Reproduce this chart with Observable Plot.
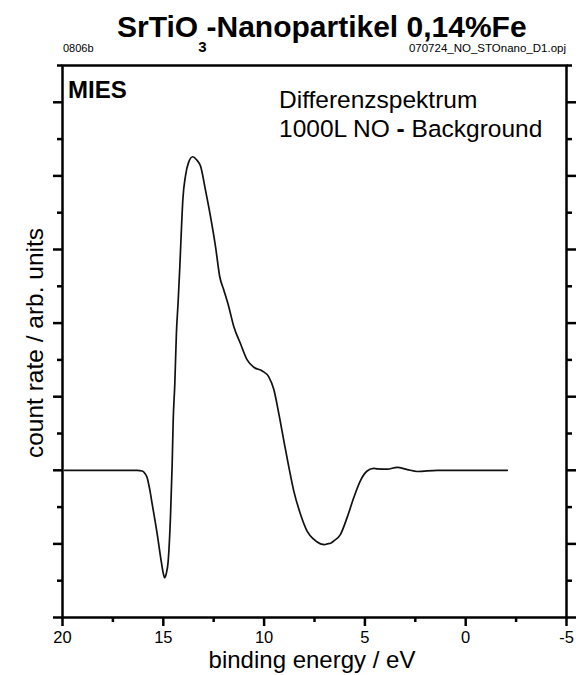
<!DOCTYPE html>
<html>
<head>
<meta charset="utf-8">
<script src="https://cdn.jsdelivr.net/npm/d3@7"></script>
<script src="https://cdn.jsdelivr.net/npm/@observablehq/plot@0.6"></script>
<style>
  body { margin: 0; background: #fff; }
  #chart { width: 582px; height: 675px; }
</style>
</head>
<body>
<div id="chart"></div>
<script>
// binding energy (eV) and difference count rate (arb. units)
const energy = [19.9, 18.0, 16.3, 16.05, 15.92, 15.80, 15.68, 15.55, 15.30, 15.10, 15.00, 14.93, 14.85, 14.76, 14.64, 14.56, 14.51, 14.43, 14.35, 14.26, 14.18, 14.11, 14.03, 13.90, 13.75, 13.54, 13.35, 13.15, 12.91, 12.66, 12.41, 12.20, 12.00, 11.75, 11.50, 11.17, 10.84, 10.51, 10.09, 9.77, 9.52, 9.27, 9.02, 8.77, 8.53, 8.19, 7.86, 7.53, 7.20, 7.00, 6.87, 6.70, 6.54, 6.21, 5.88, 5.55, 5.22, 4.89, 4.56, 4.39, 3.89, 3.40, 2.90, 2.40, 1.41, 0.26, -2.06];
const counts = [0, 0, 0, -0.01, -0.04, -0.10, -0.25, -0.46, -0.87, -1.24, -1.40, -1.46, -1.40, -1.24, -0.60, 0.08, 0.67, 1.17, 1.86, 2.31, 2.77, 3.22, 3.68, 4.00, 4.18, 4.26, 4.22, 4.13, 3.81, 3.45, 3.04, 2.63, 2.45, 2.22, 1.95, 1.72, 1.50, 1.40, 1.35, 1.27, 1.10, 0.77, 0.40, 0.04, -0.28, -0.60, -0.83, -0.94, -1.00, -1.01, -1.00, -0.99, -0.96, -0.87, -0.64, -0.37, -0.14, -0.01, 0.025, 0.02, 0.016, 0.04, 0.01, -0.016, 0, 0, 0];

const xMajorTicks = [20, 15, 10, 5, 0, -5];
const xMinorTicks = [17.5, 12.5, 7.5, 2.5, -2.5];
const yMajorTicks = [-2, -1, 0, 1, 2, 3, 4, 5];
const yMinorTicks = [-1.5, -0.5, 0.5, 1.5, 2.5, 3.5, 4.5, 5.5];

const titleMain = "SrTiO";
const titleSub = "3";
const titleRest = "-Nanopartikel 0,14%Fe";
const noteLeft = "0806b";
const noteRight = "070724_NO_STOnano_D1.opj";
const labelMethod = "MIES";
const labelLine1 = "Differenzspektrum";
const labelLine2 = ["1000L NO ", "-", " Background"];
const xLabel = "binding energy / eV";
const yLabel = "count rate / arb. units";

const data = energy.map((e, i) => ({energy: e, count: counts[i]}));
const font = "'Liberation Sans', Arial, Helvetica, sans-serif";

const plot = Plot.plot({
  width: 582,
  height: 675,
  marginTop: 65,
  marginRight: 16,
  marginBottom: 58,
  marginLeft: 62,
  style: {fontFamily: font, background: "white", color: "black", overflow: "visible"},
  x: {domain: [20, -5]},
  y: {domain: [-2, 5.5]},
  marks: [
    Plot.axisX({anchor: "bottom", ticks: xMajorTicks, tickSize: 9, strokeWidth: 2.5, text: null, label: null}),
    Plot.axisX({anchor: "bottom", ticks: xMinorTicks, tickSize: 5, strokeWidth: 2.5, text: null, label: null}),
    Plot.axisX({anchor: "bottom", ticks: xMajorTicks, tickSize: 0, tickPadding: 13.5, fontSize: 16.5, tickFormat: d => String(d), label: null}),
    Plot.axisY({anchor: "left", ticks: yMajorTicks, tickSize: 9, strokeWidth: 2.5, text: null, label: null}),
    Plot.axisY({anchor: "left", ticks: yMinorTicks, tickSize: 5, strokeWidth: 2.5, text: null, label: null}),
    Plot.axisY({anchor: "right", ticks: yMajorTicks, tickSize: 9, strokeWidth: 2.5, text: null, label: null}),
    Plot.axisY({anchor: "right", ticks: yMinorTicks, tickSize: 5, strokeWidth: 2.5, text: null, label: null}),
    Plot.line(data, {x: "energy", y: "count", stroke: "#111", strokeWidth: 1.7, curve: "monotone-x"}),
    Plot.frame({stroke: "black", strokeWidth: 2.5})
  ]
});

document.getElementById("chart").appendChild(plot);

const svg = d3.select(plot);
const g = svg.append("g").attr("font-family", font).attr("fill", "black").attr("text-anchor", "start");

const t = g.append("text").attr("x", 117).attr("y", 37)
  .attr("font-size", 30).attr("font-weight", "bold");
t.append("tspan").text(titleMain);
t.append("tspan").attr("font-size", 15).attr("dy", 15).text(titleSub);
t.append("tspan").attr("dy", -15).text(titleRest);

g.append("text").attr("x", 63).attr("y", 52).attr("font-size", 11).text(noteLeft);
g.append("text").attr("x", 566).attr("y", 52).attr("font-size", 11.5).attr("text-anchor", "end").text(noteRight);

g.append("text").attr("x", 68).attr("y", 98).attr("font-size", 24).attr("font-weight", "bold").text(labelMethod);
g.append("text").attr("x", 279).attr("y", 108).attr("font-size", 24.5).text(labelLine1);
const l2 = g.append("text").attr("x", 279).attr("y", 137).attr("font-size", 24.5);
l2.append("tspan").text(labelLine2[0]);
l2.append("tspan").attr("font-weight", "bold").text(labelLine2[1]);
l2.append("tspan").text(labelLine2[2]);

g.append("text").attr("x", 312).attr("y", 667.5).attr("text-anchor", "middle").attr("font-size", 24).text(xLabel);
g.append("text").attr("transform", "translate(43,343) rotate(-90)").attr("text-anchor", "middle")
  .attr("font-size", 24.5).text(yLabel);
</script>
</body>
</html>
